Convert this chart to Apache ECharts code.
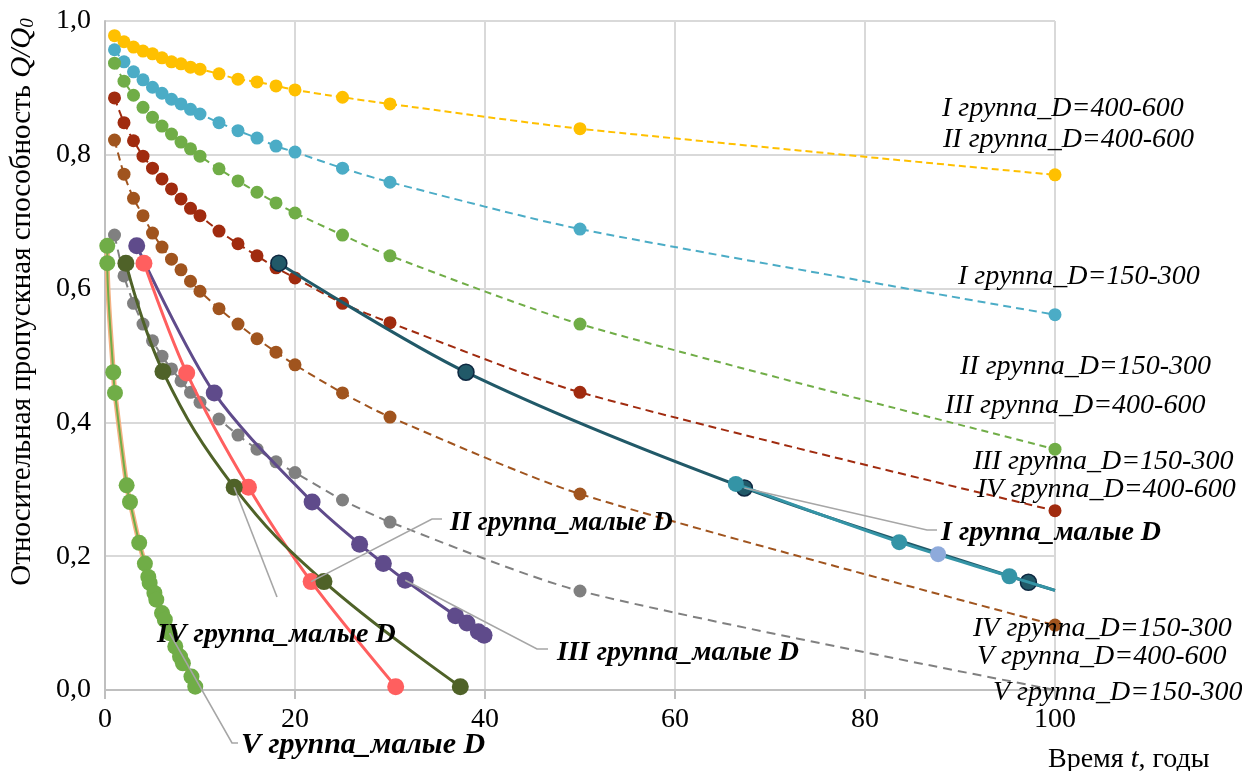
<!DOCTYPE html>
<html><head><meta charset="utf-8">
<script src="https://cdn.jsdelivr.net/npm/echarts@6/dist/echarts.min.js"></script>
<style>html,body{margin:0;padding:0;background:#fff}#c{width:1242px;height:771px}</style>
</head><body><div id="c"></div>
<script>
// ---------- data ----------
var xTicks = [0, 20, 40, 60, 80, 100];
var yTicks = [0, 0.2, 0.4, 0.6, 0.8, 1.0];

var xDense = [1,2,3,4,5,6,7,8,9,10,12,14,16,18,20,25,30,50,100];
var yI_400_600  = [0.978,0.969,0.961,0.955,0.951,0.945,0.939,0.936,0.931,0.928,0.921,0.913,0.909,0.903,0.897,0.886,0.876,0.839,0.770];
var yI_150_300  = [0.957,0.939,0.924,0.912,0.901,0.892,0.883,0.876,0.868,0.861,0.848,0.836,0.825,0.813,0.804,0.780,0.759,0.689,0.561];
var yII_150_300 = [0.937,0.910,0.889,0.871,0.856,0.843,0.831,0.819,0.809,0.798,0.779,0.761,0.744,0.728,0.713,0.680,0.649,0.547,0.360];
var yIII_150_300= [0.885,0.848,0.821,0.798,0.780,0.764,0.749,0.734,0.720,0.709,0.686,0.667,0.649,0.631,0.616,0.578,0.549,0.445,0.268];
var yIV_150_300 = [0.822,0.771,0.735,0.709,0.683,0.662,0.644,0.628,0.611,0.596,0.570,0.547,0.525,0.505,0.486,0.444,0.408,0.293,0.097];
var yV_150_300  = [0.680,0.619,0.578,0.547,0.522,0.499,0.480,0.462,0.445,0.430,0.405,0.381,0.360,0.341,0.325,0.284,0.251,0.148,0.000];

var xI_small  = [18.3, 38.0, 67.3, 97.2, 100];
var yI_small  = [0.638, 0.475, 0.302, 0.161, 0.149];
var xI_small2 = [66.4, 83.6, 95.2, 100];
var yI_small2 = [0.308, 0.221, 0.170, 0.149];
var xI_small3 = [87.7];
var yI_small3 = [0.203];

var xIII_small = [3.34, 11.5, 21.8, 26.8, 29.3, 31.6, 36.9, 38.1, 39.3, 39.9];
var yIII_small = [0.664, 0.444, 0.281, 0.218, 0.189, 0.164, 0.111, 0.100, 0.087, 0.082];
var xII_small  = [4.1, 8.6, 15.1, 21.7, 30.6];
var yII_small  = [0.638, 0.474, 0.303, 0.162, 0.005];
var xIV_small  = [2.2, 6.1, 13.6, 23.05, 37.4];
var yIV_small  = [0.638, 0.476, 0.303, 0.162, 0.005];
var xV_small = [0.24,0.24,0.87,1.05,2.28,2.63,3.6,4.2,4.56,4.7,5.2,5.4,6.0,6.3,6.8,7.4,7.9,8.2,9.1,9.5];
var yV_small = [0.664,0.638,0.475,0.444,0.306,0.281,0.220,0.189,0.169,0.160,0.145,0.135,0.115,0.105,0.085,0.065,0.050,0.040,0.020,0.005];

var rightLabels = ['I группа_D=400-600','II группа_D=400-600','I группа_D=150-300','II группа_D=150-300',
  'III группа_D=400-600','III группа_D=150-300','IV группа_D=400-600','IV группа_D=150-300',
  'V группа_D=400-600','V группа_D=150-300'];
var smallLabels = ['I группа_малые D','II группа_малые D','III группа_малые D','IV группа_малые D','V группа_малые D'];

// ---------- build ----------
var FONT = "'Liberation Serif','Times New Roman',serif";
function pairs(xs, ys, hideLast){
  return xs.map(function(x,i){
    var it = {value:[x, ys[i]]};
    if (hideLast && i === xs.length-1) it.symbol = 'none';
    return it;
  });
}
function dashed(name, ys, color, dash, hideLast){
  return {name:name, type:'line', data:pairs(xDense, ys, hideLast), smooth:0.25,
    symbol:'circle', symbolSize:13, itemStyle:{color:color},
    lineStyle:{color:color, width:2, type:dash}, z:2};
}
function solid(name, xs, ys, color, size, opts){
  opts = opts || {};
  return {name:name, type:'line', data:pairs(xs, ys, opts.hideLast), smooth:opts.smooth==null?0.35:opts.smooth,
    symbol:'circle', symbolSize:size, showSymbol:true,
    itemStyle:{color:color, borderColor:opts.border||color, borderWidth:opts.border?1.5:0},
    lineStyle:{color:opts.lineColor||color, width:opts.width||3}, z:opts.z||4};
}

var series = [
  dashed('I группа_D=400-600', yI_400_600, '#ffc000', [7,4]),
  dashed('I группа_D=150-300', yI_150_300, '#4bacc6', [8,5]),
  dashed('II группа_D=150-300', yII_150_300, '#70ad47', [7,5]),
  dashed('III группа_D=150-300', yIII_150_300, '#a02b0f', [8,5]),
  dashed('IV группа_D=150-300', yIV_150_300, '#a0541e', [8,5]),
  dashed('V группа_D=150-300', yV_150_300, '#808080', [9,6], true),
  solid('I группа_малые D', xI_small, yI_small, '#215968', 16, {hideLast:true, border:'#0e2841', smooth:0.3}),
  solid('I группа_малые D (2)', xI_small2, yI_small2, '#3494a6', 16, {hideLast:true, smooth:0.3, z:5}),
  solid('I группа_малые D (3)', xI_small3, yI_small3, '#8eaadb', 16, {z:5}),
  solid('III группа_малые D', xIII_small, yIII_small, '#5f4b8b', 17, {smooth:0.3}),
  solid('II группа_малые D', xII_small, yII_small, '#ff5f5f', 17, {smooth:0.3}),
  solid('IV группа_малые D', xIV_small, yIV_small, '#4f6228', 17, {smooth:0.4}),
  {name:'V группа_малые D (линия)', type:'line', data:pairs(xV_small, yV_small), smooth:0.3, symbol:'none',
    lineStyle:{color:'#f4b183', width:5}, z:4},
  solid('V группа_малые D', xV_small, yV_small, '#70ad47', 16, {smooth:0.3, width:2, z:5})
];

var chart = echarts.init(document.getElementById('c'), null, {renderer:'canvas'});
chart.setOption({
  animation:false,
  backgroundColor:'#ffffff',
  grid:{left:105, right:187, top:21, bottom:81, containLabel:false},
  xAxis:{type:'value', min:xTicks[0], max:xTicks[xTicks.length-1], interval:20,
    axisLine:{show:true, onZero:false, lineStyle:{color:'#bfbfbf', width:2}},
    axisTick:{show:true, length:9, lineStyle:{color:'#bfbfbf', width:2}},
    axisLabel:{fontFamily:FONT, fontSize:28, color:'#000', margin:16},
    splitLine:{show:true, lineStyle:{color:'#d9d9d9', width:2}}},
  yAxis:{type:'value', min:yTicks[0], max:yTicks[yTicks.length-1], interval:0.2,
    axisLine:{show:true, onZero:false, lineStyle:{color:'#bfbfbf', width:2}},
    axisTick:{show:false},
    axisLabel:{fontFamily:FONT, fontSize:28, color:'#000', margin:14,
      formatter:function(v){return v.toFixed(1).replace('.', ',');}},
    splitLine:{show:true, lineStyle:{color:'#d9d9d9', width:2}}},
  series:series
});

function px(x, y){ return chart.convertToPixel({gridIndex:0}, [x, y]); }
var G = [];
var LC = '#a6a6a6';
function leader(points){
  G.push({type:'polyline', shape:{points:points}, style:{stroke:LC, lineWidth:1.6, fill:null}, z:50});
}
function txt(x, y, s, opts){
  opts = opts || {};
  G.push({type:'text', x:x, y:y, rotation:opts.rot||0, z:60,
    style:{text:s, fontFamily:FONT, fontSize:opts.size||28, fontStyle:opts.italic===false?'normal':'italic',
      fontWeight:opts.bold?'bold':'normal', fill:'#000', align:opts.align||'left', verticalAlign:'middle',
      rich:opts.rich}});
}
// right-side labels
var rlPos = [[942,109],[943,140],[958,277],[960,367],[945,406],[973,462],[977,490],[973,629],[977,657],[993,693]];
rightLabels.forEach(function(s,i){ txt(rlPos[i][0], rlPos[i][1], s); });

// small-D labels with leaders
leader([px(xI_small[2], yI_small[2]), [927,530], [937,530]]);
txt(941, 533, smallLabels[0], {bold:true});
leader([px(xII_small[3], yII_small[3]), [432,519], [442,519]]);
txt(450, 523, smallLabels[1], {bold:true, size:27});
leader([px(xIII_small[5], yIII_small[5]), [537,649], [548,649]]);
txt(557, 653, smallLabels[2], {bold:true});
leader([px(xIV_small[2], yIV_small[2]), [277,597]]);
txt(157, 635, smallLabels[3], {bold:true});
leader([px(xV_small[14], yV_small[14]), [232,743], [238,743]]);
txt(241, 745, smallLabels[4], {bold:true, size:30});

// axis titles
G.push({type:'text', x:1048, y:760, z:60, style:{
  text:'{n|Время }{i|t}{n|, годы}', verticalAlign:'middle', align:'left',
  rich:{n:{fontFamily:FONT, fontSize:28, fill:'#000'}, i:{fontFamily:FONT, fontSize:28, fontStyle:'italic', fill:'#000'}}}});
G.push({type:'text', x:22, y:302, rotation:Math.PI/2, z:60, style:{
  text:'{n|Относительная пропускная способность }{i|Q/Q}{s|0}', verticalAlign:'middle', align:'center',
  rich:{n:{fontFamily:FONT, fontSize:29, fill:'#000'}, i:{fontFamily:FONT, fontSize:29, fontStyle:'italic', fill:'#000'},
        s:{fontFamily:FONT, fontSize:19, fontStyle:'italic', fill:'#000', padding:[12,0,0,0]}}}});

chart.setOption({graphic:G});
</script></body></html>
